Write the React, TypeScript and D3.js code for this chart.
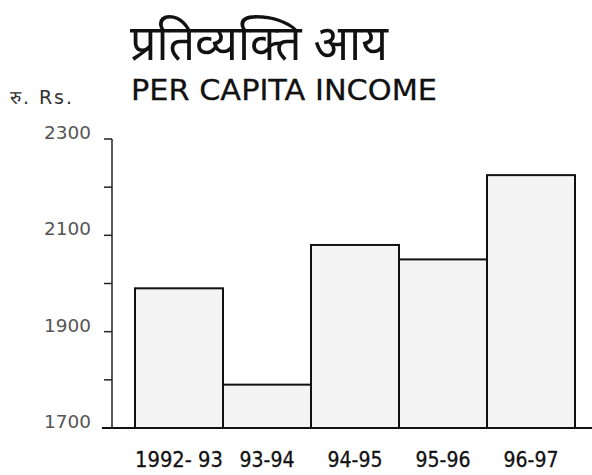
import * as React from "react";
import * as d3 from "d3";

const years = ["1992- 93", "93-94", "94-95", "95-96", "96-97"];
const income = [1990, 1790, 2080, 2050, 2225];
const majorTicks = [1700, 1900, 2100, 2300];
const minorTicks = [1800, 2000, 2200];

const width = 592;
const height = 475;

const App = () => {
  const y = d3.scaleLinear().domain([1700, 2300]).range([428, 139]);
  const x = d3.scaleBand().domain(years).range([135, 575]).padding(0);
  const axisX = 112;
  const font = "'DejaVu Sans', 'Liberation Sans', sans-serif";

  return (
    <svg
      width={width}
      height={height}
      style={{ position: "absolute", left: 0, top: 0, background: "#fff" }}
    >
      {/* titles */}
      <text
        x={130}
        y={60}
        fontSize={50}
        fontFamily="'Noto Sans', 'Lohit Devanagari', sans-serif"
        fill="#111"
        textLength={258}
        lengthAdjust="spacingAndGlyphs"
      >
        प्रतिव्यक्ति आय
      </text>
      <text
        x={131}
        y={100}
        fontSize={29}
        fontFamily={font}
        fill="#111"
        stroke="#111"
        strokeWidth={0.3}
        textLength={306}
        lengthAdjust="spacingAndGlyphs"
      >
        PER CAPITA INCOME
      </text>
      <text x={10} y={104} fontSize={19} fontFamily={font} fill="#333" textLength={62} lengthAdjust="spacing">
        रु. Rs.
      </text>

      {/* bars */}
      {income.map((v, i) => (
        <rect
          key={years[i]}
          x={x(years[i])}
          y={y(v)}
          width={x.bandwidth()}
          height={y(1700) - y(v)}
          fill="#f4f4f4"
          stroke="#111"
          strokeWidth={2}
        />
      ))}

      {/* y axis */}
      <line x1={axisX} x2={axisX} y1={y(2300)} y2={y(1700)} stroke="#222" strokeWidth={1.5} />
      {majorTicks.concat(minorTicks).map(t => (
        <line key={t} x1={axisX - 8} x2={axisX} y1={y(t)} y2={y(t)} stroke="#222" strokeWidth={1.5} />
      ))}
      {majorTicks.map(t => (
        <text
          key={t}
          x={91}
          y={y(t)}
          textAnchor="end"
          fontSize={17}
          fontFamily={font}
          fill="#555"
          textLength={47}
          lengthAdjust="spacingAndGlyphs"
        >
          {t}
        </text>
      ))}

      {/* baseline */}
      <line x1={102} x2={592} y1={y(1700)} y2={y(1700)} stroke="#111" strokeWidth={2} />

      {/* x labels */}
      {years.map(d => (
        <text
          key={d}
          x={(x(d) as number) + x.bandwidth() / 2}
          y={467}
          textAnchor="middle"
          fontSize={21}
          fontFamily={font}
          fill="#111"
          stroke="#111"
          strokeWidth={0.3}
          textLength={d.length * 11}
          lengthAdjust="spacingAndGlyphs"
        >
          {d}
        </text>
      ))}
    </svg>
  );
};

export default App;
